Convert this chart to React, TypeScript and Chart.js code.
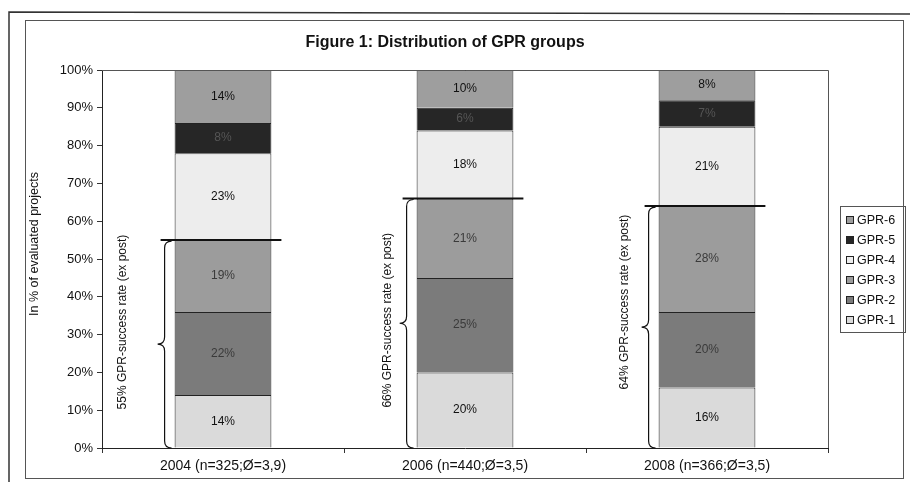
import React, { useEffect, useRef } from "react";
import { Chart, registerables } from "chart.js";

Chart.register(...registerables);

const FONT = "'Liberation Sans', Arial, sans-serif";

const categories = ["2004 (n=325;Ø=3,9)", "2006 (n=440;Ø=3,5)", "2008 (n=366;Ø=3,5)"];
const seriesNames = ["GPR-1", "GPR-2", "GPR-3", "GPR-4", "GPR-5", "GPR-6"];
const gpr1 = [14, 20, 16];
const gpr2 = [22, 25, 20];
const gpr3 = [19, 21, 28];
const gpr4 = [23, 18, 21];
const gpr5 = [8, 6, 7];
const gpr6 = [14, 10, 8];
const successRates = [55, 66, 64];
const successLabels = [
  "55% GPR-success rate (ex post)",
  "66% GPR-success rate (ex post)",
  "64% GPR-success rate (ex post)",
];
const titleText = "Figure 1: Distribution of GPR groups";
const yTitleText = "In % of evaluated projects";

const seriesColors = ["#dadada", "#7b7b7b", "#9c9c9c", "#ededed", "#262626", "#9e9e9e"];
// layout-only tweaks for the rotated annotation texts (pixels)
const annotTextShift = [
  { dx: -35, dy: -22 },
  { dx: -12, dy: -3 },
  { dx: -17, dy: -25 },
];

const seriesValues = [gpr1, gpr2, gpr3, gpr4, gpr5, gpr6];

const decorPlugin = {
  id: "decor",
  beforeDraw(chart: any) {
    const ctx = chart.ctx;
    ctx.save();
    ctx.fillStyle = "#ffffff";
    ctx.fillRect(0, 0, chart.width, chart.height);
    // outer scan frame
    ctx.strokeStyle = "#333";
    ctx.lineWidth = 1.5;
    ctx.beginPath();
    ctx.moveTo(9, 482);
    ctx.lineTo(9, 12);
    ctx.lineTo(910, 14);
    ctx.stroke();
    // inner chart frame
    ctx.strokeStyle = "#555";
    ctx.lineWidth = 1;
    ctx.strokeRect(25.5, 20.5, 878, 458);
    ctx.restore();
  },
  afterDraw(chart: any) {
    const ctx = chart.ctx;
    const area = chart.chartArea;
    const yScale = chart.scales.y;
    ctx.save();
    // plot area border (top & right)
    ctx.strokeStyle = "#555";
    ctx.lineWidth = 1;
    ctx.beginPath();
    ctx.moveTo(area.left, Math.round(area.top) + 0.5);
    ctx.lineTo(Math.round(area.right) + 0.5, Math.round(area.top) + 0.5);
    ctx.lineTo(Math.round(area.right) + 0.5, area.bottom);
    ctx.stroke();

    // title
    ctx.fillStyle = "#111";
    ctx.font = `bold 16px ${FONT}`;
    ctx.textAlign = "center";
    ctx.textBaseline = "middle";
    ctx.fillText(titleText, 445, 43);

    // y title
    ctx.save();
    ctx.translate(35, 244);
    ctx.rotate(-Math.PI / 2);
    ctx.font = `12.5px ${FONT}`;
    ctx.fillStyle = "#111";
    ctx.fillText(yTitleText, 0, 0);
    ctx.restore();

    // data labels
    ctx.font = `12px ${FONT}`;
    chart.data.datasets.forEach((ds: any, di: number) => {
      const meta = chart.getDatasetMeta(di);
      meta.data.forEach((bar: any, i: number) => {
        const v = ds.data[i];
        ctx.fillStyle = di === 4 ? "#555" : di === 1 || di === 2 ? "#3a3a3a" : "#111";
        ctx.fillText(v + "%", bar.x, (bar.y + bar.base) / 2);
      });
    });

    // success lines, braces, rotated labels
    const meta0 = chart.getDatasetMeta(0);
    meta0.data.forEach((bar: any, i: number) => {
      const half = bar.width / 2;
      const left = bar.x - half;
      const right = bar.x + half;
      const yTop = yScale.getPixelForValue(successRates[i]);
      const yBot = yScale.getPixelForValue(0);
      ctx.strokeStyle = "#111";
      ctx.lineWidth = 2;
      ctx.beginPath();
      ctx.moveTo(left - 14, yTop);
      ctx.lineTo(right + 10, yTop);
      ctx.stroke();

      // brace
      const xb = left - 10;
      const r = 7;
      const mid = (yTop + yBot) / 2;
      ctx.lineWidth = 1.2;
      ctx.beginPath();
      ctx.moveTo(xb + r, yTop + 1);
      ctx.quadraticCurveTo(xb, yTop + 1, xb, yTop + r + 1);
      ctx.lineTo(xb, mid - r);
      ctx.quadraticCurveTo(xb, mid, xb - r, mid);
      ctx.quadraticCurveTo(xb, mid, xb, mid + r);
      ctx.lineTo(xb, yBot - r);
      ctx.quadraticCurveTo(xb, yBot, xb + r, yBot);
      ctx.stroke();

      // rotated text
      ctx.save();
      ctx.translate(xb - r + annotTextShift[i].dx, mid + annotTextShift[i].dy);
      ctx.rotate(-Math.PI / 2);
      ctx.font = `12px ${FONT}`;
      ctx.fillStyle = "#111";
      ctx.textAlign = "center";
      ctx.textBaseline = "middle";
      ctx.fillText(successLabels[i], 0, 0);
      ctx.restore();
    });

    // legend
    const lx = 840;
    const ly = 206;
    ctx.strokeStyle = "#555";
    ctx.lineWidth = 1;
    ctx.strokeRect(lx + 0.5, ly + 0.5, 65, 126);
    const ds = chart.data.datasets;
    ctx.textAlign = "left";
    ctx.textBaseline = "middle";
    ctx.font = `12.5px ${FONT}`;
    for (let k = 0; k < ds.length; k++) {
      const d = ds[ds.length - 1 - k];
      const cy = ly + 14 + k * 20;
      ctx.fillStyle = d.backgroundColor;
      ctx.fillRect(lx + 6, cy - 3.5, 7, 7);
      ctx.strokeStyle = "#222";
      ctx.strokeRect(lx + 6.5, cy - 3.5, 7, 7);
      ctx.fillStyle = "#111";
      ctx.fillText(d.label, lx + 17, cy + 1);
    }
    ctx.restore();
  },
};

export default function App() {
  const ref = useRef<HTMLCanvasElement | null>(null);
  useEffect(() => {
    if (!ref.current) return;
    const chart = new Chart(ref.current, {
      type: "bar",
      data: {
        labels: categories,
        datasets: seriesNames.map((name, i) => ({
          label: name,
          data: seriesValues[i],
          backgroundColor: seriesColors[i],
          borderColor: "#222",
          borderWidth: 1,
          barPercentage: 0.4,
          categoryPercentage: 1,
        })),
      },
      options: {
        responsive: false,
        animation: false,
        layout: { padding: { top: 70, left: 25, right: 82, bottom: 0 } },
        plugins: {
          legend: { display: false },
          title: { display: false },
          tooltip: { enabled: false },
        },
        scales: {
          x: {
            stacked: true,
            grid: { drawOnChartArea: false, drawTicks: true, tickLength: 5, color: "#333" },
            border: { display: true, color: "#222", width: 1 },
            ticks: { color: "#111", font: { family: FONT, size: 14 }, padding: 5 },
            afterFit: (s: any) => {
              s.height = 34;
            },
          },
          y: {
            stacked: true,
            min: 0,
            max: 100,
            grid: { drawOnChartArea: false, drawTicks: true, tickLength: 5, color: "#333" },
            border: { display: true, color: "#222", width: 1 },
            ticks: {
              stepSize: 10,
              color: "#111",
              font: { family: FONT, size: 13 },
              padding: 4,
              callback: (v: any) => v + "%",
            },
            afterFit: (s: any) => {
              s.width = 77;
            },
          },
        },
      },
      plugins: [decorPlugin],
    });
    return () => chart.destroy();
  }, []);
  return (
    <div style={{ position: "fixed", left: 0, top: 0, width: 910, height: 482, background: "#fff" }}>
      <canvas ref={ref} width={910} height={482} style={{ display: "block" }} />
    </div>
  );
}
